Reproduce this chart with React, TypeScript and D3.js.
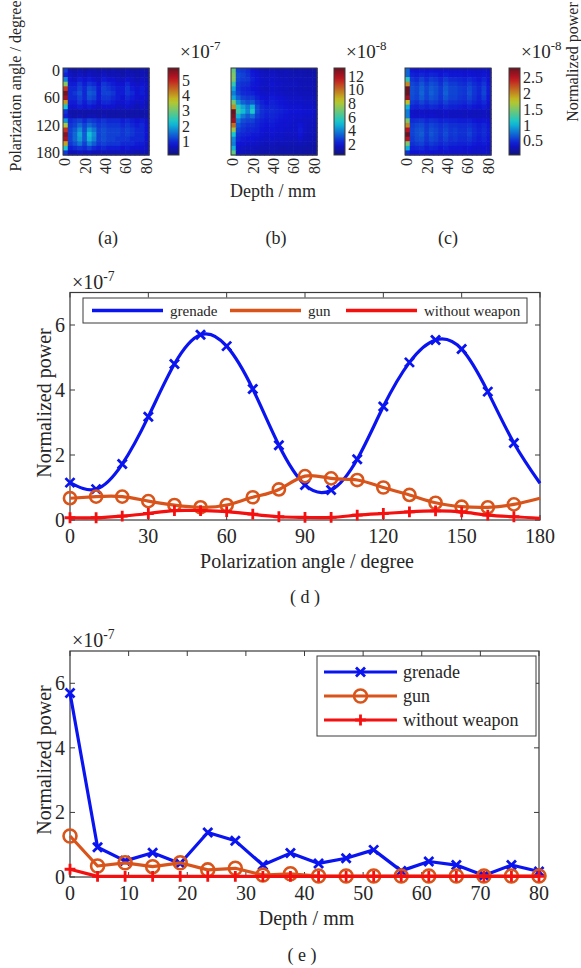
import React, { useEffect, useRef } from "react";
import * as d3 from "d3";

// ---- (d) power vs polarization angle, x1e-7 ----
const angles = [0, 10, 20, 30, 40, 50, 60, 70, 80, 90, 100, 110, 120, 130, 140, 150, 160, 170, 180];
const grenadeAngle = [1.15, 0.95, 1.72, 3.18, 4.8, 5.7, 5.35, 4.03, 2.3, 1.08, 0.92, 1.87, 3.49, 4.85, 5.54, 5.26, 3.95, 2.37, 1.13];
const gunAngle = [0.67, 0.72, 0.72, 0.58, 0.46, 0.39, 0.46, 0.7, 0.94, 1.35, 1.28, 1.23, 1.0, 0.77, 0.53, 0.41, 0.39, 0.48, 0.67];
const noWeaponAngle = [0.07, 0.07, 0.12, 0.2, 0.29, 0.29, 0.26, 0.18, 0.1, 0.08, 0.08, 0.15, 0.2, 0.25, 0.28, 0.25, 0.15, 0.1, 0.05];

// ---- (e) power vs depth, x1e-7 ----
const depths = [0, 4.7, 9.4, 14.1, 18.8, 23.5, 28.2, 32.9, 37.6, 42.4, 47.1, 51.8, 56.5, 61.2, 65.9, 70.6, 75.3, 80];
const grenadeDepth = [5.7, 0.92, 0.5, 0.75, 0.42, 1.38, 1.12, 0.37, 0.74, 0.42, 0.58, 0.84, 0.19, 0.48, 0.37, 0.05, 0.37, 0.17];
const gunDepth = [1.27, 0.34, 0.44, 0.32, 0.44, 0.22, 0.27, 0.06, 0.1, 0.03, 0.03, 0.03, 0.03, 0.03, 0.03, 0.03, 0.03, 0.03];
const noWeaponDepth = [0.24, 0.02, 0.02, 0.02, 0.02, 0.02, 0.02, 0.02, 0.02, 0.02, 0.02, 0.02, 0.02, 0.02, 0.02, 0.02, 0.02, 0.02];

// ---- heatmaps: rows = angles 0..180, columns = depths; column 0 given separately ----
// (a) grenade, x1e-7, depth columns 1..17
const heatA = [
  [0.6, 0.5, 0.6, 0.5, 0.6, 0.6, 0.5, 0.6, 0.5, 0.6, 0.5, 0.5, 0.6, 0.5, 0.5, 0.6, 0.5],
  [0.7, 0.6, 0.7, 0.6, 0.7, 0.6, 0.6, 0.7, 0.6, 0.6, 0.6, 0.5, 0.6, 0.6, 0.5, 0.6, 0.5],
  [0.8, 0.7, 0.9, 0.8, 0.9, 0.8, 0.7, 0.9, 0.8, 0.8, 0.7, 0.7, 0.8, 0.7, 0.6, 0.7, 0.6],
  [0.9, 0.9, 1.1, 0.9, 1.1, 1.0, 0.8, 1.1, 1.0, 0.9, 0.8, 0.8, 1.0, 0.8, 0.7, 0.8, 0.7],
  [1.0, 1.0, 1.2, 1.0, 1.3, 1.2, 0.9, 1.2, 1.1, 1.0, 0.9, 0.9, 1.1, 0.9, 0.8, 0.9, 0.7],
  [1.0, 1.1, 1.3, 1.0, 1.4, 1.3, 0.9, 1.2, 1.2, 1.1, 0.9, 0.9, 1.1, 1.0, 0.8, 0.9, 0.7],
  [1.0, 1.0, 1.2, 1.0, 1.3, 1.2, 0.9, 1.1, 1.1, 1.0, 0.9, 0.8, 1.0, 0.9, 0.8, 0.8, 0.7],
  [0.9, 0.9, 1.1, 0.9, 1.1, 1.0, 0.8, 1.0, 1.0, 0.9, 0.8, 0.8, 0.9, 0.8, 0.7, 0.8, 0.6],
  [0.8, 0.8, 0.9, 0.8, 0.9, 0.8, 0.7, 0.8, 0.8, 0.8, 0.7, 0.7, 0.8, 0.7, 0.6, 0.7, 0.6],
  [0.5, 0.5, 0.5, 0.5, 0.5, 0.5, 0.5, 0.5, 0.5, 0.5, 0.5, 0.5, 0.5, 0.5, 0.5, 0.5, 0.5],
  [0.6, 0.5, 0.6, 0.5, 0.6, 0.6, 0.5, 0.6, 0.5, 0.5, 0.5, 0.5, 0.5, 0.5, 0.5, 0.5, 0.5],
  [1.0, 1.1, 1.2, 1.0, 1.2, 1.1, 1.0, 1.1, 1.0, 1.0, 1.0, 0.9, 1.0, 0.9, 0.8, 0.9, 0.7],
  [1.1, 1.2, 1.5, 1.2, 1.5, 1.3, 1.1, 1.2, 1.1, 1.1, 1.1, 1.0, 1.1, 1.0, 0.9, 1.0, 0.8],
  [1.2, 1.4, 1.8, 1.3, 1.9, 1.6, 1.2, 1.3, 1.2, 1.2, 1.2, 1.1, 1.2, 1.1, 1.0, 1.0, 0.8],
  [1.2, 1.5, 2.0, 1.4, 2.2, 1.8, 1.2, 1.3, 1.2, 1.2, 1.2, 1.1, 1.2, 1.1, 1.0, 1.0, 0.8],
  [1.2, 1.5, 1.9, 1.4, 2.1, 1.7, 1.2, 1.3, 1.2, 1.2, 1.1, 1.1, 1.1, 1.0, 1.0, 1.0, 0.8],
  [1.1, 1.3, 1.6, 1.2, 1.7, 1.4, 1.1, 1.2, 1.1, 1.1, 1.1, 1.0, 1.0, 1.0, 0.9, 0.9, 0.7],
  [0.9, 1.0, 1.1, 1.0, 1.2, 1.0, 0.9, 1.0, 0.9, 0.9, 0.9, 0.8, 0.9, 0.8, 0.8, 0.8, 0.7],
  [0.6, 0.6, 0.7, 0.6, 0.7, 0.6, 0.6, 0.6, 0.6, 0.6, 0.6, 0.6, 0.6, 0.6, 0.5, 0.6, 0.5],
];
const heatAFirst = [1.15, 0.95, 1.72, 3.18, 4.8, 5.7, 5.35, 4.03, 2.3, 1.08, 0.92, 1.87, 3.49, 4.85, 5.54, 5.26, 3.95, 2.37, 1.13];

// (b) gun, x1e-8
const heatB = [
  [2.8, 2.6, 2.4, 2.0, 1.8, 1.6, 1.5, 1.6, 1.5, 1.4, 1.5, 1.4, 1.3, 1.4, 1.3, 1.3, 1.2],
  [3.0, 2.8, 2.5, 2.1, 1.9, 1.7, 1.6, 1.7, 1.6, 1.5, 1.5, 1.4, 1.4, 1.4, 1.3, 1.3, 1.2],
  [2.9, 2.7, 2.6, 2.2, 2.0, 1.8, 1.7, 1.8, 1.7, 1.6, 1.6, 1.5, 1.5, 1.5, 1.4, 1.4, 1.3],
  [2.7, 2.5, 2.4, 2.1, 2.0, 1.8, 1.7, 1.9, 1.8, 1.7, 1.6, 1.6, 1.6, 1.5, 1.4, 1.5, 1.3],
  [2.6, 2.3, 2.2, 2.0, 1.9, 1.7, 1.6, 1.8, 1.7, 1.6, 1.6, 1.5, 1.5, 1.5, 1.4, 1.4, 1.3],
  [2.8, 2.4, 2.3, 2.2, 2.0, 1.8, 1.7, 1.9, 1.8, 1.7, 1.6, 1.6, 1.6, 1.5, 1.5, 1.5, 1.3],
  [3.4, 2.8, 2.6, 2.6, 2.2, 2.0, 1.9, 2.1, 2.0, 1.9, 1.8, 1.7, 1.7, 1.7, 1.6, 1.6, 1.4],
  [4.2, 3.4, 3.0, 3.2, 2.5, 2.2, 2.0, 2.2, 2.1, 2.0, 1.9, 1.8, 1.8, 1.8, 1.7, 1.7, 1.5],
  [5.6, 4.6, 3.8, 4.8, 2.9, 2.4, 2.2, 2.3, 2.2, 2.1, 2.0, 1.9, 1.9, 1.9, 1.8, 1.8, 1.6],
  [6.0, 5.0, 4.0, 5.4, 3.0, 2.5, 2.3, 2.4, 2.3, 2.2, 2.1, 2.0, 2.0, 2.0, 1.9, 1.9, 1.7],
  [4.8, 3.8, 3.2, 3.6, 2.7, 2.4, 2.2, 2.3, 2.2, 2.1, 2.0, 1.9, 1.9, 1.9, 1.8, 1.8, 1.6],
  [3.8, 3.0, 2.8, 2.8, 2.4, 2.2, 2.1, 2.2, 2.1, 2.0, 1.9, 1.9, 1.8, 1.8, 1.7, 1.7, 1.5],
  [3.2, 2.7, 2.5, 2.5, 2.3, 2.1, 2.0, 2.1, 2.0, 1.9, 1.9, 1.8, 1.8, 2.0, 1.7, 1.6, 1.5],
  [2.8, 2.5, 2.3, 2.3, 2.2, 2.0, 1.9, 2.0, 1.9, 1.9, 1.8, 1.8, 1.8, 2.1, 1.7, 1.6, 1.4],
  [2.5, 2.3, 2.2, 2.1, 2.1, 1.9, 1.8, 1.9, 1.8, 1.8, 1.7, 1.7, 1.7, 2.0, 1.6, 1.5, 1.4],
  [2.3, 2.1, 2.0, 2.0, 1.9, 1.8, 1.7, 1.8, 1.7, 1.7, 1.6, 1.6, 1.6, 1.8, 1.5, 1.5, 1.3],
  [2.0, 1.9, 1.8, 1.8, 1.7, 1.6, 1.5, 1.6, 1.5, 1.5, 1.5, 1.4, 1.4, 1.5, 1.4, 1.3, 1.2],
  [1.8, 1.7, 1.6, 1.6, 1.5, 1.4, 1.4, 1.4, 1.4, 1.3, 1.3, 1.3, 1.3, 1.3, 1.2, 1.2, 1.1],
  [1.6, 1.5, 1.4, 1.4, 1.3, 1.3, 1.2, 1.3, 1.2, 1.2, 1.2, 1.2, 1.1, 1.2, 1.1, 1.1, 1.0],
];
const heatBFirst = [6.7, 7.2, 7.2, 5.8, 4.6, 3.9, 4.6, 7.0, 9.4, 13.5, 12.8, 12.3, 10.0, 7.7, 5.3, 4.1, 3.9, 4.8, 6.7];

// (c) without weapon, x1e-8
const heatC = [
  [0.40, 0.38, 0.40, 0.38, 0.40, 0.38, 0.36, 0.38, 0.36, 0.36, 0.36, 0.34, 0.36, 0.34, 0.34, 0.36, 0.32],
  [0.45, 0.42, 0.46, 0.42, 0.46, 0.44, 0.40, 0.44, 0.40, 0.40, 0.40, 0.38, 0.40, 0.38, 0.36, 0.40, 0.34],
  [0.52, 0.48, 0.56, 0.48, 0.55, 0.52, 0.46, 0.54, 0.48, 0.48, 0.46, 0.44, 0.48, 0.44, 0.40, 0.46, 0.38],
  [0.58, 0.54, 0.64, 0.54, 0.62, 0.58, 0.50, 0.62, 0.54, 0.54, 0.50, 0.48, 0.55, 0.48, 0.44, 0.52, 0.40],
  [0.62, 0.58, 0.68, 0.58, 0.66, 0.62, 0.54, 0.66, 0.58, 0.58, 0.54, 0.52, 0.60, 0.52, 0.46, 0.56, 0.42],
  [0.62, 0.58, 0.70, 0.58, 0.68, 0.62, 0.54, 0.68, 0.58, 0.58, 0.54, 0.52, 0.62, 0.52, 0.46, 0.58, 0.42],
  [0.60, 0.56, 0.66, 0.56, 0.64, 0.60, 0.52, 0.64, 0.56, 0.56, 0.52, 0.50, 0.58, 0.50, 0.44, 0.54, 0.40],
  [0.54, 0.50, 0.58, 0.50, 0.56, 0.54, 0.48, 0.56, 0.50, 0.50, 0.48, 0.46, 0.52, 0.46, 0.42, 0.48, 0.38],
  [0.46, 0.44, 0.48, 0.44, 0.48, 0.46, 0.42, 0.48, 0.44, 0.44, 0.42, 0.40, 0.44, 0.40, 0.38, 0.42, 0.34],
  [0.34, 0.32, 0.34, 0.32, 0.34, 0.32, 0.32, 0.34, 0.32, 0.32, 0.32, 0.30, 0.32, 0.30, 0.30, 0.32, 0.28],
  [0.36, 0.34, 0.36, 0.34, 0.36, 0.34, 0.32, 0.34, 0.32, 0.32, 0.32, 0.30, 0.32, 0.30, 0.30, 0.32, 0.28],
  [0.48, 0.50, 0.52, 0.46, 0.50, 0.48, 0.44, 0.46, 0.44, 0.44, 0.42, 0.42, 0.44, 0.40, 0.38, 0.40, 0.36],
  [0.54, 0.58, 0.60, 0.52, 0.58, 0.54, 0.50, 0.54, 0.50, 0.50, 0.48, 0.48, 0.50, 0.46, 0.42, 0.46, 0.40],
  [0.56, 0.62, 0.64, 0.54, 0.62, 0.58, 0.52, 0.58, 0.52, 0.54, 0.50, 0.50, 0.54, 0.48, 0.44, 0.48, 0.42],
  [0.56, 0.62, 0.66, 0.54, 0.64, 0.58, 0.52, 0.60, 0.52, 0.54, 0.50, 0.50, 0.56, 0.48, 0.44, 0.48, 0.42],
  [0.54, 0.60, 0.62, 0.52, 0.60, 0.56, 0.50, 0.56, 0.50, 0.52, 0.48, 0.48, 0.52, 0.46, 0.42, 0.46, 0.40],
  [0.50, 0.54, 0.56, 0.48, 0.54, 0.50, 0.46, 0.50, 0.46, 0.46, 0.44, 0.44, 0.46, 0.42, 0.40, 0.42, 0.38],
  [0.44, 0.46, 0.48, 0.42, 0.46, 0.44, 0.40, 0.44, 0.40, 0.40, 0.40, 0.38, 0.40, 0.38, 0.36, 0.38, 0.34],
  [0.38, 0.38, 0.40, 0.36, 0.38, 0.36, 0.34, 0.36, 0.34, 0.34, 0.34, 0.32, 0.34, 0.32, 0.32, 0.34, 0.30],
];
const heatCFirst = [0.7, 0.7, 1.2, 2.0, 2.9, 2.9, 2.6, 1.8, 1.0, 0.8, 0.8, 1.5, 2.0, 2.5, 2.8, 2.5, 1.5, 1.0, 0.5];

// ticks
const angleTicks = [0, 30, 60, 90, 120, 150, 180];
const depthTicks = [0, 10, 20, 30, 40, 50, 60, 70, 80];
const powerTicks = [0, 2, 4, 6];
const heatAngleTicks = [0, 60, 120, 180];
const heatDepthTicks = [0, 20, 40, 60, 80];
const cbTicksA = [1, 2, 3, 4, 5];
const cbTicksB = [2, 4, 6, 8, 10, 12];
const cbTicksC = ["0.5", "1", "1.5", "2", "2.5"];

const seriesNames = ["grenade", "gun", "without weapon"];
const seriesColors = ["#0a14f0", "#d9541a", "#f51010"];

const FONT = "'Liberation Serif', 'Times New Roman', serif";
const TXT = "#262626";
const AX = "#3a3a3a";

// MATLAB jet, muted and darkened like the printed figure
const jet = (t) => {
  t = Math.max(0, Math.min(1, t));
  const c = (v) => Math.max(0, Math.min(1, 1.5 - Math.abs(v)));
  const raw = d3.rgb(255 * c(4 * t - 3), 255 * c(4 * t - 2), 255 * c(4 * t - 1));
  return d3.interpolateRgb(raw, "#34446e")(0.3);
};

function sciLabel(g, x, y, exp, size = 20) {
  const t = g.append("text").attr("x", x).attr("y", y).attr("font-family", FONT)
    .attr("font-size", size).attr("fill", TXT);
  t.append("tspan").text("×10");
  t.append("tspan").attr("dy", -size * 0.4).attr("font-size", size * 0.68).text(exp);
}

function drawHeatmap(svg, cfg) {
  const { x0, y0, w, h, first, rest, domain, cbX, cbTicks, exp, showY, id } = cfg;
  const g = svg.append("g");
  const nRows = angles.length;
  const nCols = depths.length;
  const cw = w / nCols;
  const ch = h / nRows;
  const xc = d3.scaleLinear().domain([0, 80]).range([x0 + cw / 2, x0 + w - cw / 2]);
  const yc = d3.scaleLinear().domain([0, 180]).range([y0 + ch / 2, y0 + h - ch / 2]);
  const color = d3.scaleLinear().domain(domain).range([0, 1]).clamp(true);

  angles.forEach((a, i) => {
    const row = [first[i], ...rest[i]];
    row.forEach((v, j) => {
      g.append("rect")
        .attr("x", xc(depths[j]) - cw / 2)
        .attr("y", yc(a) - ch / 2)
        .attr("width", cw + 0.6)
        .attr("height", ch + 0.6)
        .attr("fill", jet(color(v)));
    });
  });
  g.append("rect").attr("x", x0).attr("y", y0).attr("width", w).attr("height", h)
    .attr("fill", "none").attr("stroke", AX).attr("stroke-width", 1);

  // rotated depth tick labels
  heatDepthTicks.forEach((d) => {
    g.append("text")
      .attr("transform", `translate(${xc(d) + 5},${y0 + h + 3}) rotate(-90)`)
      .attr("text-anchor", "end")
      .attr("font-family", FONT).attr("font-size", 16).attr("fill", TXT)
      .text(d);
  });
  if (showY) {
    heatAngleTicks.forEach((a) => {
      g.append("text").attr("x", x0 - 3).attr("y", yc(a)).attr("dy", "0.35em")
        .attr("text-anchor", "end").attr("font-family", FONT).attr("font-size", 16)
        .attr("fill", TXT).text(a);
    });
  }

  // colorbar
  const grad = svg.append("defs").append("linearGradient").attr("id", id)
    .attr("x1", 0).attr("y1", 1).attr("x2", 0).attr("y2", 0);
  d3.range(0, 1.0001, 0.05).forEach((t) => {
    grad.append("stop").attr("offset", t).attr("stop-color", jet(t));
  });
  const cbW = 11;
  g.append("rect").attr("x", cbX).attr("y", y0).attr("width", cbW).attr("height", h)
    .attr("fill", `url(#${id})`).attr("stroke", AX).attr("stroke-width", 1);
  const cy = d3.scaleLinear().domain(domain).range([y0 + h, y0]);
  cbTicks.forEach((t) => {
    g.append("text").attr("x", cbX + cbW + 3).attr("y", cy(+t)).attr("dy", "0.35em")
      .attr("font-family", FONT).attr("font-size", 16).attr("fill", TXT).text(t);
  });
  sciLabel(g, cbX + 12, y0 - 10, exp, 19);
}

function marker(g, type, cx, cy, color, s) {
  if (type === "x") {
    g.append("path")
      .attr("d", `M${cx - s},${cy - s}L${cx + s},${cy + s}M${cx - s},${cy + s}L${cx + s},${cy - s}`)
      .attr("stroke", color).attr("stroke-width", 2.8).attr("fill", "none");
  } else if (type === "o") {
    g.append("circle").attr("cx", cx).attr("cy", cy).attr("r", s * 1.35)
      .attr("stroke", color).attr("stroke-width", 2.6).attr("fill", "none");
  } else {
    const p = s * 1.2;
    g.append("path")
      .attr("d", `M${cx - p},${cy}L${cx + p},${cy}M${cx},${cy - p}L${cx},${cy + p}`)
      .attr("stroke", color).attr("stroke-width", 2.8).attr("fill", "none");
  }
}

function drawLineChart(svg, cfg) {
  const { xs, series, xDomain, xRange, yRange, xTicks, curve, markerN, xTitle, yTitleY } = cfg;
  const g = svg.append("g");
  const x = d3.scaleLinear().domain(xDomain).range(xRange);
  const y = d3.scaleLinear().domain([0, 7]).range(yRange);
  const [L, R] = xRange;
  const [B, T] = yRange;

  g.append("rect").attr("x", L).attr("y", T).attr("width", R - L).attr("height", B - T)
    .attr("fill", "none").attr("stroke", AX).attr("stroke-width", 1.2);
  xTicks.forEach((t) => {
    g.append("line").attr("x1", x(t)).attr("x2", x(t)).attr("y1", B).attr("y2", B - 5).attr("stroke", AX);
    g.append("line").attr("x1", x(t)).attr("x2", x(t)).attr("y1", T).attr("y2", T + 5).attr("stroke", AX);
    g.append("text").attr("x", x(t)).attr("y", B + 23).attr("text-anchor", "middle")
      .attr("font-family", FONT).attr("font-size", 20).attr("fill", TXT).text(t);
  });
  powerTicks.forEach((t) => {
    g.append("line").attr("x1", L).attr("x2", L + 5).attr("y1", y(t)).attr("y2", y(t)).attr("stroke", AX);
    g.append("line").attr("x1", R).attr("x2", R - 5).attr("y1", y(t)).attr("y2", y(t)).attr("stroke", AX);
    g.append("text").attr("x", L - 5).attr("y", y(t)).attr("dy", "0.35em").attr("text-anchor", "end")
      .attr("font-family", FONT).attr("font-size", 20).attr("fill", TXT).text(t);
  });
  sciLabel(g, L + 2, T - 4, "-7", 20);

  g.append("text").attr("x", (L + R) / 2 + 2).attr("y", B + 48).attr("text-anchor", "middle")
    .attr("font-family", FONT).attr("font-size", 20).attr("fill", TXT).text(xTitle);
  g.append("text").attr("transform", `translate(51,${yTitleY}) rotate(-90)`)
    .attr("text-anchor", "middle").attr("font-family", FONT).attr("font-size", 20)
    .attr("fill", TXT).text("Normalized power");

  const line = d3.line().x((d) => x(d[0])).y((d) => y(d[1])).curve(curve);
  series.forEach((s) => {
    const pts = xs.map((v, i) => [v, s.values[i]]);
    g.append("path").attr("d", line(pts)).attr("fill", "none").attr("stroke", s.color)
      .attr("stroke-width", 3.2).attr("stroke-linejoin", "round");
    pts.slice(0, markerN).forEach((p) => marker(g, s.marker, x(p[0]), y(p[1]), s.color, s.size));
  });
  return g;
}

export default function App() {
  const ref = useRef(null);

  useEffect(() => {
    document.body.style.margin = "0";
    const svg = d3.select(ref.current);
    svg.selectAll("*").remove();

    // ---------- top row heatmaps ----------
    drawHeatmap(svg, { id: "cbA", x0: 63, y0: 68, w: 86, h: 87, first: heatAFirst, rest: heatA,
      domain: [0.14, 5.78], cbX: 168, cbTicks: cbTicksA, exp: "-7", showY: true });
    drawHeatmap(svg, { id: "cbB", x0: 231, y0: 68, w: 86, h: 87, first: heatBFirst, rest: heatB,
      domain: [0.4, 13.2], cbX: 334, cbTicks: cbTicksB, exp: "-8", showY: false });
    drawHeatmap(svg, { id: "cbC", x0: 405, y0: 68, w: 86, h: 87, first: heatCFirst, rest: heatC,
      domain: [0.05, 2.8], cbX: 509, cbTicks: cbTicksC, exp: "-8", showY: false });

    const txt = (x, y, s, size, rot = false) => {
      const t = svg.append("text").attr("font-family", FONT).attr("font-size", size)
        .attr("fill", TXT).attr("text-anchor", "middle").text(s);
      if (rot) t.attr("transform", `translate(${x},${y}) rotate(-90)`);
      else t.attr("x", x).attr("y", y);
    };
    txt(21, 86, "Polarization angle / degree", 16, true);
    txt(578, 62, "Normalized power", 16, true);
    txt(273, 197, "Depth / mm", 18);
    txt(108, 244, "(a)", 18);
    txt(276, 244, "(b)", 18);
    txt(448, 244, "(c)", 18);

    // ---------- (d) ----------
    drawLineChart(svg, {
      xs: angles,
      series: [
        { values: grenadeAngle, color: seriesColors[0], marker: "x", size: 4.5 },
        { values: gunAngle, color: seriesColors[1], marker: "o", size: 4.5 },
        { values: noWeaponAngle, color: seriesColors[2], marker: "+", size: 4.5 },
      ],
      xDomain: [0, 180], xRange: [70, 540], yRange: [520, 292.5], xTicks: angleTicks,
      curve: d3.curveNatural, markerN: angles.length - 1,
      xTitle: "Polarization angle / degree", yTitleY: 403,
    });
    // legend (d)
    const lg = svg.append("g");
    lg.append("rect").attr("x", 83).attr("y", 298).attr("width", 444).attr("height", 25)
      .attr("fill", "#fff").attr("stroke", AX).attr("stroke-width", 1);
    const lx = [92, 230, 346];
    seriesNames.forEach((n, i) => {
      lg.append("line").attr("x1", lx[i]).attr("x2", lx[i] + 71).attr("y1", 310.5).attr("y2", 310.5)
        .attr("stroke", seriesColors[i]).attr("stroke-width", 3.5);
      lg.append("text").attr("x", lx[i] + 78).attr("y", 315.5).attr("font-family", FONT)
        .attr("font-size", 15).attr("fill", TXT).text(n);
    });
    txt(305, 603, "( d )", 18);

    // ---------- (e) ----------
    drawLineChart(svg, {
      xs: depths,
      series: [
        { values: grenadeDepth, color: seriesColors[0], marker: "x", size: 4.5 },
        { values: gunDepth, color: seriesColors[1], marker: "o", size: 4.8 },
        { values: noWeaponDepth, color: seriesColors[2], marker: "+", size: 4.5 },
      ],
      xDomain: [0, 80], xRange: [70, 539], yRange: [877, 651], xTicks: depthTicks,
      curve: d3.curveLinear, markerN: depths.length,
      xTitle: "Depth / mm", yTitleY: 760,
    });
    const le = svg.append("g");
    le.append("rect").attr("x", 317).attr("y", 656).attr("width", 219).attr("height", 80)
      .attr("fill", "#fff").attr("stroke", AX).attr("stroke-width", 1);
    const types = ["x", "o", "+"];
    seriesNames.forEach((n, i) => {
      const yy = 672 + i * 24;
      le.append("line").attr("x1", 324).attr("x2", 397).attr("y1", yy).attr("y2", yy)
        .attr("stroke", seriesColors[i]).attr("stroke-width", 3);
      marker(le, types[i], 360.5, yy, seriesColors[i], i === 1 ? 4.8 : 4.5);
      le.append("text").attr("x", 403).attr("y", yy).attr("dy", "0.33em").attr("font-family", FONT)
        .attr("font-size", 18).attr("fill", TXT).text(n);
    });
    txt(302, 961, "( e )", 18);
  }, []);

  return <svg ref={ref} width={581} height={968} style={{ display: "block", background: "#fff" }} />;
}
